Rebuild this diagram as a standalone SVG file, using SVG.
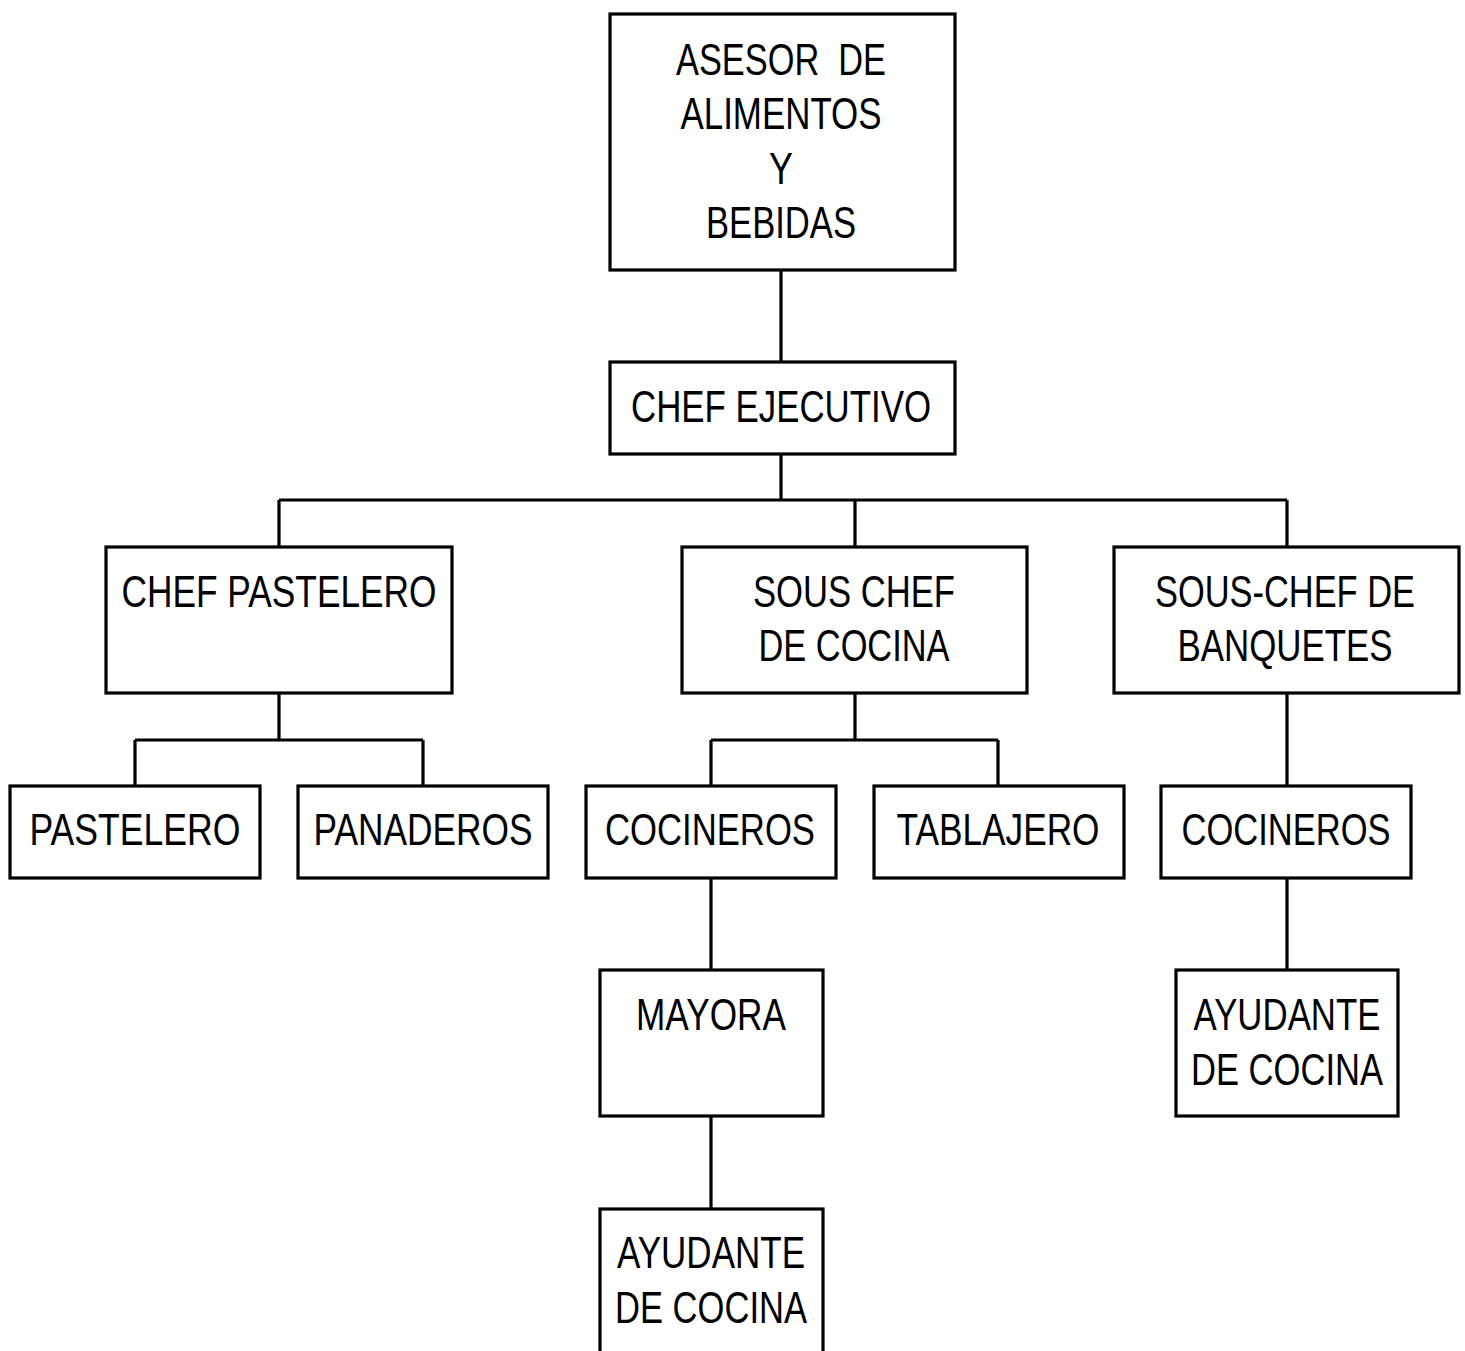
<svg xmlns="http://www.w3.org/2000/svg" width="1465" height="1351" viewBox="0 0 1465 1351">
<style>
.box{fill:#fff;stroke:#000;stroke-width:3.2}
.ln{stroke:#000;stroke-width:3.2;fill:none}
text{font-family:"Liberation Sans",Arial,sans-serif;font-size:44px;fill:#000;text-anchor:middle}
</style>
<rect width="1465" height="1351" fill="#fff"/>
<g id="connectors">
<path class="ln" d="M781 270V362M781 454V500M279 500H1287M279 500V547M855 500V547M1287 500V547"/>
<path class="ln" d="M279 693V740M135 740H423M135 740V786M423 740V786"/>
<path class="ln" d="M855 693V740M711 740H998M711 740V786M998 740V786"/>
<path class="ln" d="M1287 693V786M711 878V970M711 1116V1209M1287 878V970"/>
</g>
<g id="asesor"><rect class="box" x="610" y="14" width="345" height="256"/>
<text x="781" y="75" textLength="210" lengthAdjust="spacingAndGlyphs" xml:space="preserve">ASESOR  DE</text>
<text x="781" y="129" textLength="201" lengthAdjust="spacingAndGlyphs">ALIMENTOS</text>
<text x="781" y="184" textLength="24" lengthAdjust="spacingAndGlyphs">Y</text>
<text x="781" y="238" textLength="150" lengthAdjust="spacingAndGlyphs">BEBIDAS</text></g>
<g id="chef-ejecutivo"><rect class="box" x="610" y="362" width="345" height="92"/>
<text x="781" y="422" textLength="300" lengthAdjust="spacingAndGlyphs">CHEF EJECUTIVO</text></g>
<g id="chef-pastelero"><rect class="box" x="106" y="547" width="346" height="146"/>
<text x="279" y="607" textLength="315" lengthAdjust="spacingAndGlyphs">CHEF PASTELERO</text></g>
<g id="sous-chef-cocina"><rect class="box" x="682" y="547" width="345" height="146"/>
<text x="854" y="607" textLength="202" lengthAdjust="spacingAndGlyphs">SOUS CHEF</text>
<text x="854" y="661" textLength="191" lengthAdjust="spacingAndGlyphs">DE COCINA</text></g>
<g id="sous-chef-banquetes"><rect class="box" x="1114" y="547" width="345" height="146"/>
<text x="1285" y="607" textLength="260" lengthAdjust="spacingAndGlyphs">SOUS-CHEF DE</text>
<text x="1285" y="661" textLength="215" lengthAdjust="spacingAndGlyphs">BANQUETES</text></g>
<g id="pastelero"><rect class="box" x="10" y="786" width="250" height="92"/>
<text x="135" y="845" textLength="211" lengthAdjust="spacingAndGlyphs">PASTELERO</text></g>
<g id="panaderos"><rect class="box" x="298" y="786" width="250" height="92"/>
<text x="423" y="845" textLength="219" lengthAdjust="spacingAndGlyphs">PANADEROS</text></g>
<g id="cocineros-1"><rect class="box" x="586" y="786" width="250" height="92"/>
<text x="710" y="845" textLength="210" lengthAdjust="spacingAndGlyphs">COCINEROS</text></g>
<g id="tablajero"><rect class="box" x="874" y="786" width="250" height="92"/>
<text x="998" y="845" textLength="203" lengthAdjust="spacingAndGlyphs">TABLAJERO</text></g>
<g id="cocineros-2"><rect class="box" x="1161" y="786" width="250" height="92"/>
<text x="1286" y="845" textLength="209" lengthAdjust="spacingAndGlyphs">COCINEROS</text></g>
<g id="mayora"><rect class="box" x="600" y="970" width="223" height="146"/>
<text x="711" y="1030" textLength="150" lengthAdjust="spacingAndGlyphs">MAYORA</text></g>
<g id="ayudante-1"><rect class="box" x="600" y="1209" width="223" height="160"/>
<text x="711" y="1268" textLength="188" lengthAdjust="spacingAndGlyphs">AYUDANTE</text>
<text x="711" y="1323" textLength="192" lengthAdjust="spacingAndGlyphs">DE COCINA</text></g>
<g id="ayudante-2"><rect class="box" x="1176" y="970" width="222" height="146"/>
<text x="1287" y="1030" textLength="187" lengthAdjust="spacingAndGlyphs">AYUDANTE</text>
<text x="1287" y="1085" textLength="192" lengthAdjust="spacingAndGlyphs">DE COCINA</text></g>
</svg>
